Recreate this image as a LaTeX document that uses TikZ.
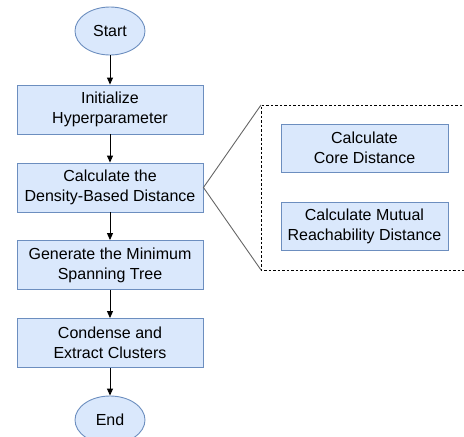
\documentclass[tikz,border=0pt]{standalone}
\usepackage{fontspec}
\setmainfont{Liberation Sans}
\usetikzlibrary{shapes.geometric,arrows.meta}
\definecolor{bfill}{HTML}{DAE8FC}
\definecolor{bdraw}{HTML}{6C8EBF}
\definecolor{gline}{HTML}{666666}
\begin{document}
\begin{tikzpicture}[x=1pt,y=-1pt,
  proc/.style={draw=bdraw,fill=bfill,line width=0.9pt,minimum width=186pt,minimum height=49pt,align=center,inner sep=0pt,font=\fontsize{16}{20}\selectfont},
  sub/.style={proc,minimum width=167pt,minimum height=48pt},
  term/.style={ellipse,draw=bdraw,fill=bfill,line width=0.9pt,minimum width=70pt,minimum height=48pt,inner sep=0pt,font=\fontsize{16}{20}\selectfont},
  arr/.style={-{Triangle[length=7pt,width=6pt]},line width=0.9pt,black}]
\useasboundingbox (0,0) rectangle (464,437);
\begin{scope}
\clip (0,0) rectangle (464,437);
\node[term] (start) at (110,31) {Start};
\node[proc] (init) at (110,109.5) {Initialize\\Hyperparameter};
\node[proc] (calc) at (110,187.5) {Calculate the\\Density-Based Distance};
\node[proc] (gen) at (110,265) {Generate the Minimum\\Spanning Tree};
\node[proc] (cond) at (110,343) {Condense and\\Extract Clusters};
\node[term] (end) at (110,420) {End};
\draw[arr] (start) -- (init);
\draw[arr] (init) -- (calc);
\draw[arr] (calc) -- (gen);
\draw[arr] (gen) -- (cond);
\draw[arr] (cond) -- (end);
\coordinate (dtl) at (261,105);
\coordinate (dbl) at (261,270);
\draw[dashed,line width=0.8pt,dash pattern=on 2.5pt off 2pt] (480,105) -- (dtl) -- (dbl) -- (480,270);
\node[sub] (core) at (364.5,148) {Calculate\\Core Distance};
\node[sub] (mut) at (364.5,226.5) {Calculate Mutual\\Reachability Distance};
\draw[gline,line width=0.9pt] (dtl) -- (calc.east) -- (dbl);
\end{scope}
\end{tikzpicture}
\end{document}
